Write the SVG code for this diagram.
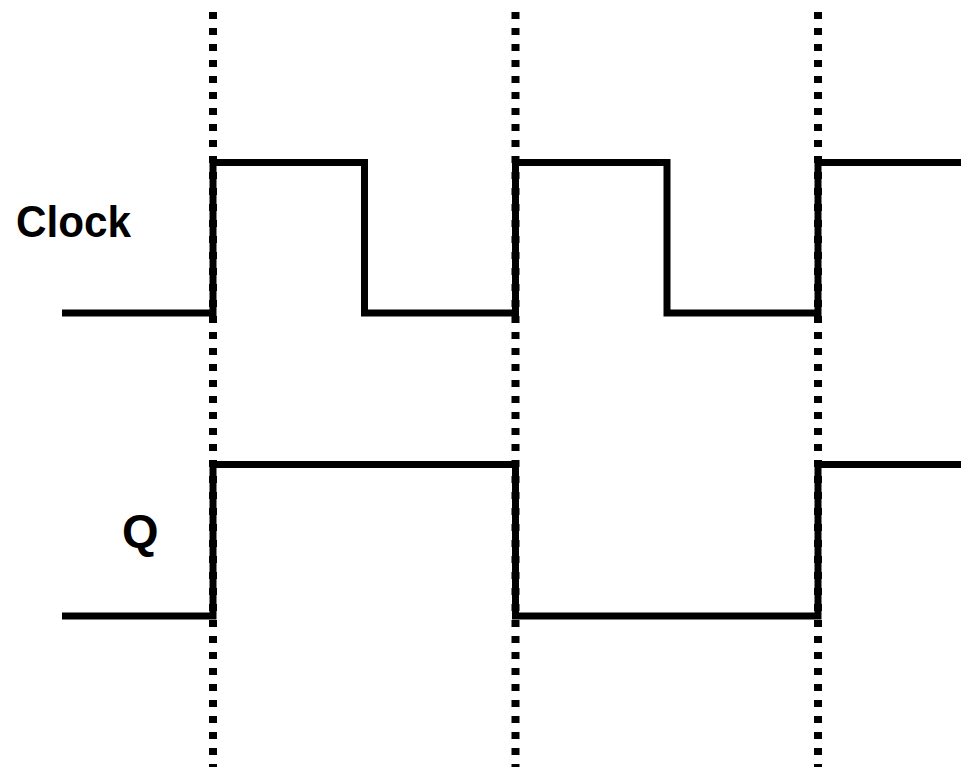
<svg xmlns="http://www.w3.org/2000/svg" width="961" height="767" viewBox="0 0 961 767">
<style>
.grid{stroke:#000;stroke-width:8;stroke-dasharray:7 9;fill:none}
.sig{stroke:#000;stroke-width:7;fill:none;stroke-linejoin:miter;stroke-linecap:butt}
.lbl{font-family:"Liberation Sans",Arial,sans-serif;font-weight:bold;fill:#000}
</style>
<rect width="961" height="767" fill="#fff"/>
<g id="edges">
<line class="grid" x1="213" y1="12" x2="213" y2="767"/>
<line class="grid" x1="515.5" y1="12" x2="515.5" y2="767"/>
<line class="grid" x1="818" y1="12" x2="818" y2="767"/>
</g>
<g id="clock">
<polyline class="sig" points="62,313 213,313 213,162.5 364.5,162.5 364.5,313 515.5,313 515.5,162.5 667,162.5 667,313 818,313 818,162.5 961,162.5"/>
<text class="lbl" x="16" y="237" font-size="44" textLength="115" lengthAdjust="spacingAndGlyphs">Clock</text>
</g>
<g id="q">
<polyline class="sig" points="62,616 213,616 213,464.5 515.5,464.5 515.5,616 818,616 818,464.5 961,464.5"/>
<text class="lbl" x="122" y="547" font-size="47">Q</text>
</g>
</svg>
